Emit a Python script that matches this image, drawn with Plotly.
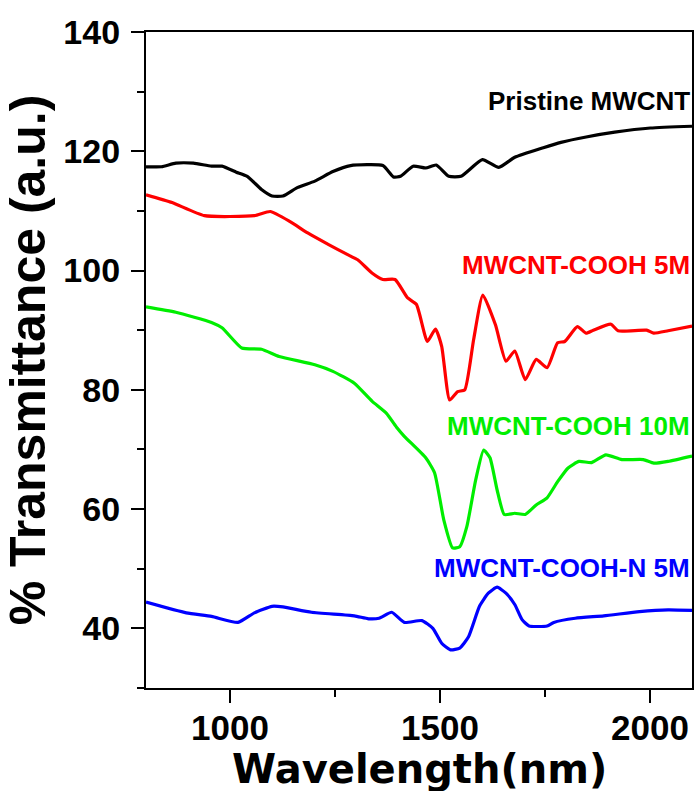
import plotly.graph_objects as go

# ---------------- data ----------------
pristine_x = [800, 837, 871, 913, 956, 981, 1015, 1041, 1075, 1100, 1126, 1160, 1202, 1245, 1287, 1364,
              1389, 1406, 1436, 1466, 1491, 1521, 1550, 1601, 1640, 1678, 1746, 1788, 1848, 1916, 2001, 2100]
pristine_y = [117.4, 117.4, 118.0, 118.0, 117.5, 117.5, 116.5, 115.8, 113.6, 112.5, 112.5, 113.9, 115.0, 116.6,
              117.6, 117.6, 115.7, 115.8, 117.5, 117.2, 117.7, 115.8, 115.8, 118.6, 117.3, 119.0, 120.6, 121.5,
              122.4, 123.2, 123.9, 124.2]

cooh5_x = [800, 862, 939, 1058, 1096, 1143, 1185, 1236, 1279, 1304, 1338, 1364, 1393, 1423, 1444, 1470, 1489,
           1504, 1523, 1542, 1559, 1580, 1602, 1632, 1657, 1678, 1703, 1729, 1755, 1780, 1797, 1827, 1848, 1865,
           1907, 1924, 1992, 2009, 2043, 2100]
cooh5_y = [112.7, 111.4, 109.2, 109.2, 109.9, 108.2, 106.3, 104.3, 102.7, 101.8, 99.6, 98.5, 98.5, 95.4, 94.3,
           88.1, 90.2, 87.3, 78.3, 79.7, 80.0, 88.4, 95.9, 90.9, 84.8, 86.5, 81.7, 85.1, 83.7, 87.9, 88.1, 90.6,
           89.5, 90.0, 91.0, 89.9, 90.0, 89.5, 89.9, 90.7]

cooh10_x = [800, 871, 956, 981, 1028, 1075, 1117, 1202, 1245, 1296, 1338, 1372, 1398, 1415, 1466, 1487, 1509,
            1530, 1547, 1564, 1585, 1604, 1619, 1636, 1653, 1678, 1703, 1729, 1755, 1780, 1805, 1831, 1861, 1895,
            1933, 1984, 2009, 2043, 2100]
cooh10_y = [93.9, 93.0, 91.3, 90.4, 87.0, 86.8, 85.6, 84.2, 83.1, 81.1, 78.1, 76.1, 73.6, 72.2, 68.6, 66.1, 58.2,
            53.5, 53.7, 57.1, 64.9, 69.9, 68.6, 63.2, 59.1, 59.3, 59.1, 60.7, 61.9, 64.6, 66.9, 68.0, 67.8, 69.1,
            68.3, 68.3, 67.7, 68.0, 68.9]

coohn5_x = [800, 896, 956, 1019, 1058, 1100, 1126, 1194, 1296, 1330, 1355, 1385, 1415, 1457, 1483, 1504, 1525,
            1547, 1568, 1594, 1615, 1636, 1657, 1678, 1695, 1712, 1755, 1771, 1822, 1890, 1975, 2043, 2100]
coohn5_y = [44.4, 42.6, 42.0, 41.0, 42.6, 43.7, 43.6, 42.7, 42.1, 41.6, 41.7, 42.7, 41.0, 41.3, 40.0, 37.5, 36.4,
            36.7, 38.6, 43.7, 45.9, 46.9, 45.9, 44.0, 41.5, 40.4, 40.4, 41.0, 41.7, 42.1, 42.8, 43.1, 43.0]

series_names = ["Pristine MWCNT", "MWCNT-COOH 5M", "MWCNT-COOH 10M", "MWCNT-COOH-N 5M"]
series_colors = ["#000000", "#ff0000", "#00ee00", "#0000ff"]
label_y = [128.5, 101.0, 73.9, 50.2]

x_title = "Wavelength(nm)"
y_title = "% Transmittance (a.u.)"

# ---------------- figure ----------------
FONT = "Liberation Sans, Arial, sans-serif"
WIDE_FONT = "DejaVu Sans, Liberation Sans, sans-serif"
fig = go.Figure()
xs = [pristine_x, cooh5_x, cooh10_x, coohn5_x]
ys = [pristine_y, cooh5_y, cooh10_y, coohn5_y]
for name, col, x, y in zip(series_names, series_colors, xs, ys):
    fig.add_trace(go.Scatter(x=x, y=y, mode="lines", name=name,
                             line=dict(color=col, width=3.2, shape="spline", smoothing=0.5)))

for name, col, ly in zip(series_names, series_colors, label_y):
    fig.add_annotation(x=1.0, xref="paper", y=ly, yref="y", text=name, showarrow=False,
                       xanchor="right", yanchor="middle",
                       font=dict(family=FONT, size=26, color=col, weight="bold"))

# x-axis title placed as an annotation under the tick labels
fig.add_annotation(x=0.5, xref="paper", y=-0.1235, yref="paper", text=x_title, showarrow=False,
                   xanchor="center", yanchor="middle", borderpad=0,
                   font=dict(family=WIDE_FONT, size=40, color="black", weight="bold"))

axis_common = dict(showline=True, linecolor="black", linewidth=2.3, mirror=True,
                   ticks="outside", ticklen=13, tickwidth=2.3, tickcolor="black",
                   showgrid=False, zeroline=False)

fig.update_xaxes(range=[800, 2100], tick0=0, dtick=500,
                 tickfont=dict(family=FONT, size=35, color="black", weight="bold"),
                 ticklabelstandoff=-5,
                 minor=dict(ticks="outside", ticklen=7, tickwidth=2.3, tickcolor="black", dtick=250, tick0=0),
                 **axis_common)
fig.update_yaxes(range=[30, 140], tick0=0, dtick=20,
                 tickfont=dict(family=FONT, size=34, color="black", weight="bold"),
                 ticklabelstandoff=4,
                 minor=dict(ticks="outside", ticklen=7, tickwidth=2.3, tickcolor="black", dtick=10, tick0=0),
                 title=dict(text=y_title, font=dict(family=FONT, size=50, color="black", weight="bold"),
                            standoff=4),
                 **axis_common)

fig.update_layout(width=697, height=791, showlegend=False,
                  paper_bgcolor="white", plot_bgcolor="white",
                  margin=dict(l=146, r=3, t=32, b=103))

fig.write_html("out.html")
